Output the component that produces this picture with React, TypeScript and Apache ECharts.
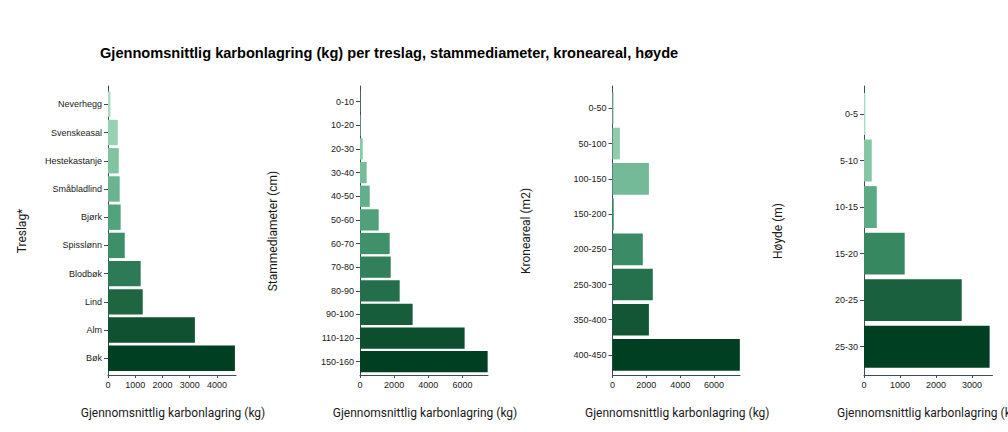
import React, { useEffect, useRef } from "react";
import * as echarts from "echarts";

const titleText = "Gjennomsnittlig karbonlagring (kg) per treslag, stammediameter, kroneareal, høyde";
const xTitle = "Gjennomsnittlig karbonlagring (kg)";

const treslag = ["Neverhegg", "Svenskeasal", "Hestekastanje", "Småbladlind", "Bjørk", "Spisslønn", "Blodbøk", "Lind", "Alm", "Bøk"];
const treslagValues = [90, 360, 395, 430, 465, 615, 1200, 1275, 3190, 4660];

const diameter = ["0-10", "10-20", "20-30", "30-40", "40-50", "50-60", "60-70", "70-80", "80-90", "90-100", "110-120", "150-160"];
const diameterValues = [10, 25, 160, 390, 570, 1095, 1740, 1800, 2325, 3085, 6130, 7480];

const kroneareal = ["0-50", "50-100", "100-150", "150-200", "200-250", "250-300", "350-400", "400-450"];
const kronearealValues = [80, 440, 2150, 80, 1790, 2380, 2150, 7520];

const hoyde = ["0-5", "5-10", "10-15", "15-20", "20-25", "25-30"];
const hoydeValues = [40, 215, 355, 1130, 2715, 3490];

const ticks1 = [0, 1000, 2000, 3000, 4000];
const ticks2 = [0, 2000, 4000, 6000];
const ticks3 = [0, 2000, 4000, 6000];
const ticks4 = [0, 1000, 2000, 3000];

const yTitles = ["Treslag*", "Stammediameter (cm)", "Kroneareal (m2)", "Høyde (m)"];

const stops = ["#acdcc4", "#8ccaa9", "#6ab491", "#469a72", "#2d7a56", "#165a38", "#003f22"];

function hexToRgb(h: string) {
  const n = parseInt(h.slice(1), 16);
  return [(n >> 16) & 255, (n >> 8) & 255, n & 255];
}
function ramp(t: number) {
  const s = t * (stops.length - 1);
  const i = Math.min(Math.floor(s), stops.length - 2);
  const f = s - i;
  const a = hexToRgb(stops[i]);
  const b = hexToRgb(stops[i + 1]);
  const c = a.map((v, k) => Math.round(v + (b[k] - v) * f));
  return `rgb(${c[0]},${c[1]},${c[2]})`;
}

const AXIS_COLOR = "#3d4b59";
const TICK_FONT = "Liberation Sans";

export default function App() {
  const ref = useRef<HTMLDivElement>(null);
  useEffect(() => {
    if (!ref.current) return;
    const chart = echarts.init(ref.current, undefined, { renderer: "svg" });

    const panels = [
      { cats: treslag, vals: treslagValues, ticks: ticks1, max: 4700, left: 108, width: 128, barTop: 90.2, barBottom: 372.4, axTop: 86, axBottom: 375 },
      { cats: diameter, vals: diameterValues, ticks: ticks2, max: 7500, left: 360, width: 128, barTop: 89.9, barBottom: 373.5, axTop: 86, axBottom: 375 },
      { cats: kroneareal, vals: kronearealValues, ticks: ticks3, max: 7530, left: 612.5, width: 127.5, barTop: 90.7, barBottom: 372.6, axTop: 86, axBottom: 375 },
      { cats: hoyde, vals: hoydeValues, ticks: ticks4, max: 3570, left: 864, width: 128.5, barTop: 90.7, barBottom: 370, axTop: 86, axBottom: 375 },
    ];

    const grid: any[] = [];
    const xAxis: any[] = [];
    const yAxis: any[] = [];
    const series: any[] = [];
    const graphic: any[] = [];

    panels.forEach((p, i) => {
      const gBar = i * 2;
      const gAx = i * 2 + 1;
      grid.push({ left: p.left, width: p.width, top: p.barTop, height: p.barBottom - p.barTop });
      grid.push({ left: p.left, width: p.width, top: p.axTop, height: p.axBottom - p.axTop });

      xAxis.push({
        type: "value", gridIndex: gBar, min: 0, max: p.max, show: false,
      });
      xAxis.push({
        type: "value", gridIndex: gAx, min: 0, max: p.max,
        splitLine: { show: false },
        axisLine: { show: true, lineStyle: { color: AXIS_COLOR, width: 1 } },
        axisTick: { show: true, length: 3, lineStyle: { color: AXIS_COLOR }, customValues: p.ticks },
        axisLabel: {
          show: true, margin: 5, fontSize: 9, fontFamily: TICK_FONT, color: "#1a1a1a",
          customValues: p.ticks, formatter: (v: number) => String(v),
        },
      });

      yAxis.push({
        type: "category", gridIndex: gBar, data: p.cats, inverse: true,
        axisLine: { show: false },
        axisTick: { show: true, length: 4, alignWithLabel: true, lineStyle: { color: AXIS_COLOR } },
        axisLabel: { margin: 6, fontSize: 9, fontFamily: TICK_FONT, color: "#1a1a1a" },
        splitLine: { show: false },
      });
      yAxis.push({
        type: "value", gridIndex: gAx, min: 0, max: 1,
        axisLine: { show: true, lineStyle: { color: AXIS_COLOR, width: 1 } },
        axisTick: { show: false }, axisLabel: { show: false }, splitLine: { show: false },
      });

      const n = p.cats.length;
      series.push({
        type: "bar",
        xAxisIndex: gBar,
        yAxisIndex: gBar,
        barCategoryGap: "10%",
        data: p.vals.map((v, k) => ({ value: v, itemStyle: { color: ramp(k / (n - 1)) } })),
      });

      graphic.push({
        type: "text",
        x: [21.7, 273.3, 525.7, 778.3][i],
        y: 231,
        rotation: Math.PI / 2,
        style: {
          text: yTitles[i], fontSize: 12, fontFamily: "Roboto", fill: "#1a1a1a",
          textAlign: "center", textVerticalAlign: "middle",
        },
      });
      graphic.push({
        type: "text",
        x: p.left + p.width / 2 + 1,
        y: 413,
        style: {
          text: xTitle, fontSize: 12, fontFamily: "Roboto", fill: "#1a1a1a",
          textAlign: "center", textVerticalAlign: "middle",
        },
      });
    });

    chart.setOption({
      animation: false,
      backgroundColor: "#ffffff",
      title: {
        text: titleText, left: 95, top: 40,
        textStyle: { fontSize: 14.6, fontWeight: "bold", fontFamily: "Liberation Sans", color: "#000000" },
      },
      grid, xAxis, yAxis, series, graphic,
    });
    return () => chart.dispose();
  }, []);
  return <div ref={ref} style={{ position: "absolute", left: 0, top: 0, width: 1008, height: 432 }} />;
}
